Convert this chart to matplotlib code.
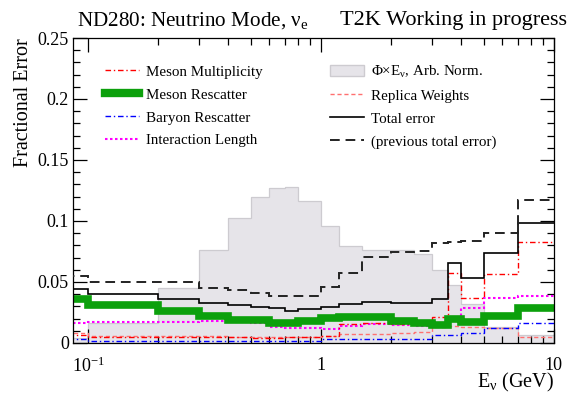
import matplotlib
matplotlib.use("Agg")
import matplotlib.pyplot as plt
from matplotlib.patches import Patch
from matplotlib.lines import Line2D
from matplotlib.ticker import FixedLocator, FixedFormatter

plt.rcParams['font.family'] = ['Liberation Serif', 'DejaVu Serif']
plt.rcParams['mathtext.fontset'] = 'custom'
plt.rcParams['mathtext.rm'] = 'Liberation Serif'
plt.rcParams['mathtext.it'] = 'Liberation Serif:italic'

# neutrino energy bin edges (GeV)
edges = [0.05, 0.1, 0.2, 0.3, 0.4, 0.5, 0.6, 0.7, 0.8, 1.0, 1.2, 1.5,
         2.0, 2.5, 3.0, 3.5, 4.0, 5.0, 7.0, 10.0]

flux = [0.004, 0.016, 0.045, 0.076, 0.1025, 0.12, 0.127, 0.128, 0.116, 0.096,
        0.0795, 0.076, 0.076, 0.073, 0.060, 0.0475, 0.032, 0.013, 0.0065]
meson_mult = [0.0066, 0.005, 0.0048, 0.0047, 0.0045, 0.0042, 0.004, 0.0045, 0.0045, 0.006,
              0.0156, 0.0164, 0.0156, 0.0156, 0.021, 0.057, 0.037, 0.0565, 0.083]
meson_resc = [0.036, 0.031, 0.026, 0.022, 0.019, 0.019, 0.0164, 0.0164, 0.018, 0.0205,
              0.0213, 0.0213, 0.018, 0.0164, 0.0148, 0.020, 0.017, 0.022, 0.0287]
baryon_resc = [0.003, 0.0018, 0.0016, 0.0016, 0.0015, 0.0015, 0.0014, 0.0014, 0.0014, 0.003,
               0.003, 0.003, 0.0032, 0.0033, 0.0066, 0.0066, 0.0085, 0.0125, 0.0164]
int_length = [0.0164, 0.0172, 0.0175, 0.0178, 0.0175, 0.016, 0.013, 0.0123, 0.0123, 0.0115,
              0.0139, 0.0156, 0.0145, 0.014, 0.014, 0.021, 0.0285, 0.037, 0.0385]
replica = [0.008, 0.0055, 0.0055, 0.0055, 0.005, 0.005, 0.0045, 0.005, 0.005, 0.006,
           0.007, 0.0075, 0.008, 0.009, 0.013, 0.0135, 0.013, 0.0123, 0.005]
total = [0.044, 0.040, 0.036, 0.033, 0.0315, 0.0295, 0.0287, 0.026, 0.028, 0.0295,
         0.032, 0.0336, 0.033, 0.033, 0.036, 0.0656, 0.053, 0.074, 0.098]
prev_total = [0.055, 0.050, 0.050, 0.045, 0.0434, 0.041, 0.0385, 0.0385, 0.0385, 0.046,
              0.0574, 0.0705, 0.0746, 0.0754, 0.082, 0.083, 0.0836, 0.090, 0.117]

fig = plt.figure(figsize=(5.71, 3.96), dpi=100)
ax = fig.add_axes([0.128, 0.134, 0.842, 0.770])

fill_col = '#e6e4e9'
dash_dot = (0, (4, 2, 1, 2))
prev_dash = (0, (5, 3))

ax.stairs(flux, edges, fill=True, color=fill_col, zorder=1)
ax.stairs(flux, edges, baseline=None, color='#cdcbd0', lw=0.9, zorder=1.1)

ax.stairs(replica, edges, baseline=None, color='#ff7070', lw=1.0, ls=(0, (3, 2)), zorder=2)
ax.stairs(int_length, edges, baseline=None, color='#ff00ff', lw=1.5, ls=(0, (1.2, 1.2)), zorder=2.1)
ax.stairs(baryon_resc, edges, baseline=None, color='#0000ff', lw=1.0, ls=dash_dot, zorder=2.2)
ax.stairs(meson_mult, edges, baseline=None, color='#ff0000', lw=1.0, ls=dash_dot, zorder=2.3)
ax.stairs(meson_resc, edges, baseline=None, color='#0ca00c', lw=5.5, zorder=2.4)
ax.stairs(total, edges, baseline=None, color='black', lw=1.2, zorder=3)
ax.stairs(prev_total, edges, baseline=None, color='#222222', lw=1.4, ls=prev_dash, zorder=3)

ax.set_xscale('log')
ax.set_xlim(0.0862, 10)
ax.set_ylim(0, 0.25)

ax.xaxis.set_major_locator(FixedLocator([0.1, 1, 10]))
ax.xaxis.set_major_formatter(FixedFormatter([r'$\mathregular{10^{-1}}$', '1', '10']))
ax.xaxis.set_minor_locator(FixedLocator([m * d for d in (0.1, 1) for m in range(2, 10)]))
ax.xaxis.set_minor_formatter(FixedFormatter([]))
ax.yaxis.set_major_locator(FixedLocator([0, 0.05, 0.1, 0.15, 0.2, 0.25]))
ax.yaxis.set_major_formatter(FixedFormatter(['0', '0.05', '0.1', '0.15', '0.2', '0.25']))
ax.yaxis.set_minor_locator(FixedLocator([i * 0.01 for i in range(26)]))

ax.tick_params(which='both', direction='in', top=True, right=True, width=0.9, labelsize=13)
ax.tick_params(axis='y', which='major', length=10, pad=3)
ax.tick_params(axis='y', which='minor', length=5)
ax.tick_params(axis='x', which='major', length=10, pad=10)
ax.tick_params(axis='x', which='minor', length=5)
for s in ax.spines.values():
    s.set_linewidth(0.9)

ax.set_ylabel('Fractional Error', fontsize=14.5, loc='top', labelpad=3)
ax.set_xlabel(r'E$_{\mathregular{ν}}$ (GeV)', fontsize=14.5, loc='right', labelpad=-4)

fig.text(0.135, 0.947, r'ND280: Neutrino Mode, $\mathregular{ν_e}$', fontsize=15.2, va='center')
fig.text(0.993, 0.947, 'T2K Working in progress', fontsize=16, va='center', ha='right')

handles = [
    Line2D([], [], color='#ff0000', lw=1.0, ls=dash_dot),
    Line2D([], [], color='#0ca00c', lw=6),
    Line2D([], [], color='#0000ff', lw=1.0, ls=dash_dot),
    Line2D([], [], color='#ff00ff', lw=1.5, ls=(0, (1.2, 1.2))),
    Patch(facecolor=fill_col, edgecolor='#cdcbd0'),
    Line2D([], [], color='#ff7070', lw=1.0, ls=(0, (3, 2))),
    Line2D([], [], color='black', lw=1.2),
    Line2D([], [], color='#222222', lw=1.4, ls=prev_dash),
]
labels = ['Meson Multiplicity', 'Meson Rescatter', 'Baryon Rescatter', 'Interaction Length',
          r'Φ×E$_{\mathregular{ν}}$, Arb. Norm.', 'Replica Weights', 'Total error',
          '(previous total error)']
ax.legend(handles, labels, ncol=2, loc='upper left', bbox_to_anchor=(0.066, 0.916),
          frameon=False, fontsize=10.8, handlelength=2.25, handletextpad=0.5,
          columnspacing=4.5, labelspacing=0.63, borderpad=0, borderaxespad=0)

fig.savefig('out.png', dpi=100)
